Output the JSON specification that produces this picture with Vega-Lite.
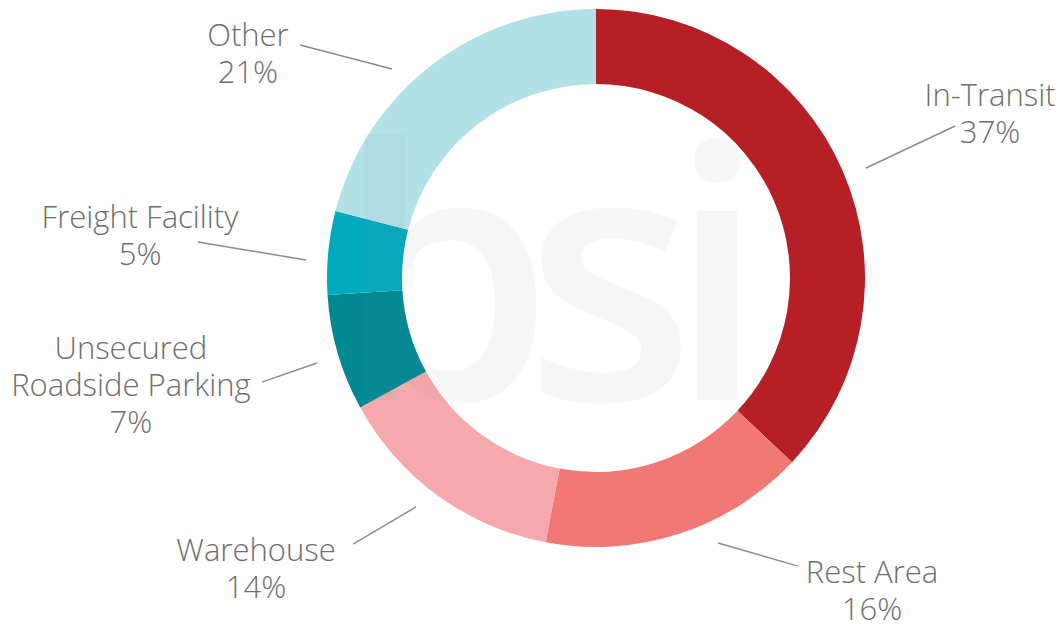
{
  "$schema": "https://vega.github.io/schema/vega-lite/v6.json",
  "width": 1063,
  "height": 624,
  "autosize": {"type": "none"},
  "padding": 0,
  "background": "white",
  "config": {"view": {"stroke": null}},
  "datasets": {
    "slices": [
      {"category": "In-Transit", "share": 37, "rank": 1},
      {"category": "Rest Area", "share": 16, "rank": 2},
      {"category": "Warehouse", "share": 14, "rank": 3},
      {"category": "Unsecured Roadside Parking", "share": 7, "rank": 4},
      {"category": "Freight Facility", "share": 5, "rank": 5},
      {"category": "Other", "share": 21, "rank": 6}
    ],
    "labels": [
      {"category": "In-Transit", "text": "In-Transit\n37%", "lx": 146.5, "ly": 67.3, "ax": 100.4, "ay": 40.9, "bx": 133.5, "by": 56.5},
      {"category": "Rest Area", "text": "Rest Area\n16%", "lx": 102.6, "ly": -110.0, "ax": 45.4, "ay": -98.5, "bx": 75.1, "by": -107.1},
      {"category": "Warehouse", "text": "Warehouse\n14%", "lx": -126.4, "ly": -101.9, "ax": -66.9, "ay": -85.1, "bx": -90.3, "by": -98.9},
      {"category": "Unsecured Roadside Parking", "text": "Unsecured\nRoadside Parking\n7%", "lx": -172.9, "ly": -26.8, "ax": -103.7, "ay": -31.6, "bx": -124.2, "by": -38.7},
      {"category": "Freight Facility", "text": "Freight Facility\n5%", "lx": -169.5, "ly": 21.9, "ax": -107.8, "ay": 6.7, "bx": -148.0, "by": 13.4},
      {"category": "Other", "text": "Other\n21%", "lx": -129.4, "ly": 89.6, "ax": -75.8, "ay": 77.7, "bx": -110.0, "by": 86.6}
    ]
  },
  "layer": [
    {
      "data": {"name": "slices"},
      "mark": {"type": "arc", "innerRadius": 194, "outerRadius": 269},
      "encoding": {
        "x": {"datum": 0, "type": "quantitative", "scale": {"domain": [-221.56, 173.61], "nice": false, "zero": false}, "axis": null},
        "y": {"datum": 0, "type": "quantitative", "scale": {"domain": [-128.62, 103.35], "nice": false, "zero": false}, "axis": null},
        "theta": {"field": "share", "type": "quantitative", "stack": true},
        "order": {"field": "rank", "type": "quantitative"},
        "color": {
          "field": "category",
          "type": "nominal",
          "scale": {
            "domain": ["In-Transit", "Rest Area", "Warehouse", "Unsecured Roadside Parking", "Freight Facility", "Other"],
            "range": ["#B71F27", "#F27875", "#F5A9AA", "#008893", "#00AABD", "#B2E0E7"]
          },
          "legend": null
        }
      }
    },
    {
      "data": {"values": [{"glyph": "b"}]},
      "mark": {"type": "text", "font": "Open Sans", "fontWeight": 600, "fontSize": 350, "color": "#888888", "opacity": 0.06, "align": "center", "baseline": "alphabetic"},
      "encoding": {
        "x": {"datum": -56.1, "type": "quantitative"},
        "y": {"datum": -45.4, "type": "quantitative"},
        "text": {"field": "glyph"}
      }
    },
    {
      "data": {"values": [{"glyph": "s"}]},
      "mark": {"type": "text", "font": "Open Sans", "fontWeight": 600, "fontSize": 350, "color": "#888888", "opacity": 0.06, "align": "center", "baseline": "alphabetic"},
      "encoding": {
        "x": {"datum": 5.2, "type": "quantitative"},
        "y": {"datum": -45.4, "type": "quantitative"},
        "text": {"field": "glyph"}
      }
    },
    {
      "data": {"values": [{"glyph": "i"}]},
      "mark": {"type": "text", "font": "Open Sans", "fontWeight": 600, "fontSize": 350, "color": "#888888", "opacity": 0.06, "align": "center", "baseline": "alphabetic"},
      "encoding": {
        "x": {"datum": 45.0, "type": "quantitative"},
        "y": {"datum": -45.4, "type": "quantitative"},
        "text": {"field": "glyph"}
      }
    },
    {
      "data": {"name": "labels"},
      "mark": {"type": "rule", "color": "#8c8c8c", "strokeWidth": 1.5},
      "encoding": {
        "x": {"field": "ax", "type": "quantitative"},
        "y": {"field": "ay", "type": "quantitative"},
        "x2": {"field": "bx"},
        "y2": {"field": "by"}
      }
    },
    {
      "data": {"name": "labels"},
      "mark": {"type": "text", "font": "Open Sans", "fontWeight": 300, "fontSize": 31, "color": "#6e6e6e", "lineBreak": "\n", "lineHeight": 37, "align": "center", "baseline": "middle"},
      "encoding": {
        "x": {"field": "lx", "type": "quantitative"},
        "y": {"field": "ly", "type": "quantitative"},
        "text": {"field": "text"}
      }
    }
  ]
}
